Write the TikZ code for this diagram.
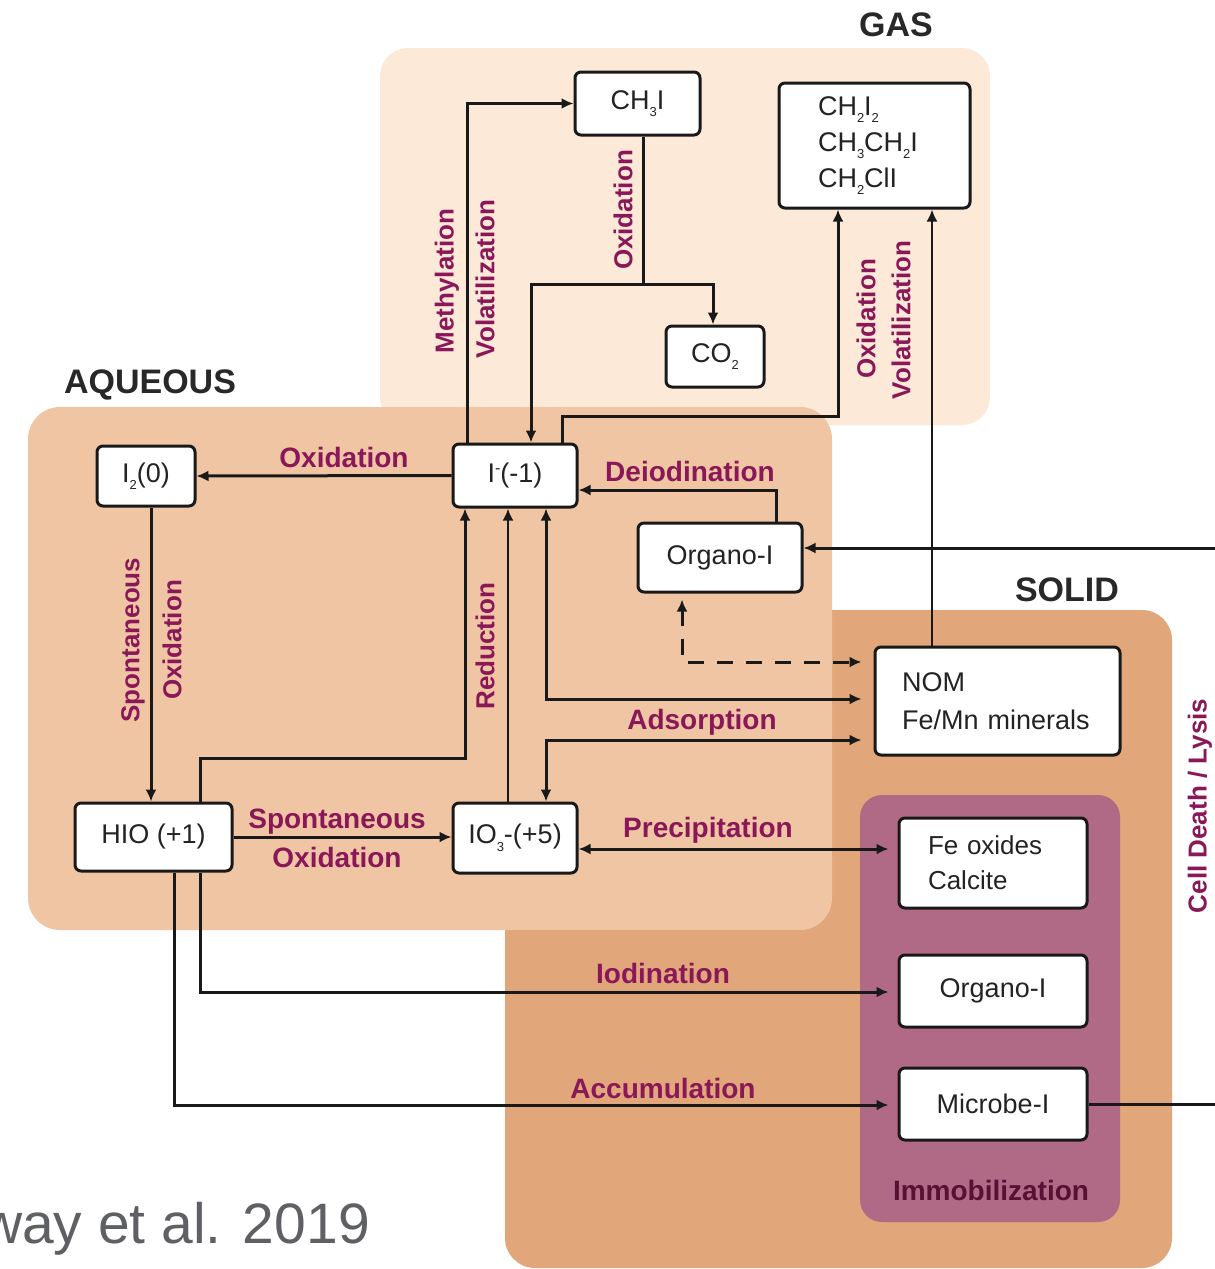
\documentclass[tikz,border=0pt]{standalone}
\usepackage{fontspec}
\setmainfont{Liberation Sans}
\usetikzlibrary{arrows.meta}
\definecolor{gasc}{RGB}{253,233,216}
\definecolor{aqc}{RGB}{240,197,163}
\definecolor{solc}{RGB}{225,166,122}
\definecolor{immc}{RGB}{176,106,134}
\definecolor{labc}{RGB}{138,24,88}
\definecolor{immlab}{RGB}{88,16,52}
\definecolor{boxline}{RGB}{25,25,25}
\definecolor{boxtext}{RGB}{35,35,35}
\definecolor{citec}{RGB}{95,96,100}
\definecolor{regc}{RGB}{40,40,40}
\newcommand\sbx[1]{\raisebox{-0.28em}{\fontsize{13}{13}\selectfont #1}}
\newcommand\spx[1]{\raisebox{0.32em}{\fontsize{16}{16}\selectfont #1}}
\begin{document}
\begin{tikzpicture}[x=1pt,y=-1pt,
  box/.style={draw=boxline, line width=3pt, fill=white, rounded corners=6pt, inner sep=0pt, text=boxtext, font=\fontsize{27}{36}\selectfont, align=center},
  lab/.style={text=labc, font=\bfseries\fontsize{28}{30}\selectfont, inner sep=0pt},
  vlab/.style={text=labc, font=\bfseries\fontsize{26}{28}\selectfont, inner sep=0pt, rotate=90},
  region/.style={font=\bfseries\fontsize{34}{36}\selectfont, text=regc, inner sep=0pt},
  line/.style={draw=boxline, line width=3pt},
  arr/.style={line, -{Latex[length=12pt,width=11pt]}},
  dbl/.style={line, {Latex[length=12pt,width=11pt]}-{Latex[length=12pt,width=11pt]}},
  dasharr/.style={line, dash pattern=on 16pt off 13pt, {Latex[length=12pt,width=11pt]}-{Latex[length=12pt,width=11pt]}}
]
\useasboundingbox (0,0) rectangle (1215,1269);
\clip (0,0) rectangle (1215,1269);

% regions
\fill[gasc, rounded corners=28pt] (380,48) rectangle (990,425);
\fill[solc, rounded corners=30pt] (505,610) rectangle (1172,1268);
\fill[aqc, rounded corners=32pt] (28,407) rectangle (832,930);
\fill[immc, rounded corners=22pt] (860,795) rectangle (1120,1222);

\node[region] (gaslab) at (896,25) {GAS};
\node[region] (aqlab) at (150,385) {AQUEOUS};
\node[region] (sollab) at (1067,590) {SOLID};
\node[text=immlab, font=\bfseries\fontsize{28}{30}\selectfont, inner sep=0pt] (immlab) at (991,1190) {Immobilization};

% boxes
\node[box, minimum width=125pt, minimum height=63pt] (CH3I) at (637.5,103.5) {CH\sbx{3}I};
\node[box, minimum width=191pt, minimum height=125pt, text width=113pt, inner xsep=39pt, align=left] (CHX) at (874.5,145.5) {CH\sbx{2}I\sbx{2}\\CH\sbx{3}CH\sbx{2}I\\CH\sbx{2}ClI};
\node[box, minimum width=98pt, minimum height=61pt] (CO2) at (715,356.5) {CO\sbx{2}};
\node[box, minimum width=98pt, minimum height=60pt] (I2) at (146,476) {I\sbx{2}(0)};
\node[box, minimum width=124pt, minimum height=63pt] (Im) at (515,475.5) {I\spx{-}(-1)};
\node[box, minimum width=164pt, minimum height=69pt] (OrgA) at (720,557.5) {Organo-I};
\node[box, minimum width=245pt, minimum height=108pt, text width=191pt, inner xsep=27pt, align=left, font=\fontsize{27}{38}\selectfont] (NOM) at (997.5,701) {NOM\\Fe/Mn minerals};
\node[box, minimum width=157pt, minimum height=68pt] (HIO) at (153.5,837) {HIO (+1)};
\node[box, minimum width=124pt, minimum height=70pt] (IO3) at (515,838) {IO\sbx{3}-(+5)};
\node[box, minimum width=188pt, minimum height=90pt, text width=130pt, inner xsep=29pt, align=left, font=\fontsize{26}{35}\selectfont] (FeOx) at (993,863) {Fe oxides\\Calcite};
\node[box, minimum width=188pt, minimum height=72pt] (OrgS) at (993,991) {Organo-I};
\node[box, minimum width=188pt, minimum height=72pt] (Mic) at (993,1104) {Microbe-I};

% free ends at the right edge
\coordinate (cdTop) at (1215,548);
\coordinate (cdBot) at (1215,1104);
\coordinate (oxj) at (643,284);

% connectors
\draw[arr] ([xshift=-48pt]Im.north) |- (CH3I.west);
\draw[line] (CH3I.south -| oxj) -- (oxj);
\draw[arr] (oxj) -| ([xshift=-2pt]CO2.north);
\draw[arr] (oxj) -| ([xshift=16pt]Im.north);
\draw[arr] ([xshift=47pt]Im.north) |- ++(0,-26) -| ([xshift=-36.5pt]CHX.south);
\draw[line, line width=2.2pt, -{Latex[length=12pt,width=11pt]}] ([xshift=-65.5pt]NOM.north) -- ([xshift=57.5pt]CHX.south);
\draw[arr] (Im.west) -- (I2.east);
\draw[arr] ([xshift=56pt]OrgA.north) |- ([yshift=-14.5pt]Im.east);
\draw[arr] (cdTop) -- (OrgA.east |- cdTop);
\draw[line] (Mic.east) -- (cdBot);
\draw[arr] ([xshift=5pt]I2.south) -- ([xshift=5pt]I2.south |- HIO.north);
\draw[arr] ([xshift=46.5pt]HIO.north) |- ++(0,-43) -| ([xshift=-50pt]Im.south);
\draw[arr, line width=2.4pt] ([xshift=-7pt]IO3.north) -- ([xshift=-7pt]Im.south);
\draw[dbl, shorten >=12pt] ([xshift=31pt]Im.south) |- ([yshift=2pt]NOM.west);
\draw[dbl, shorten >=12pt] ([xshift=31pt]IO3.north) |- ([yshift=-39pt]NOM.west);
\draw[dasharr, shorten <=6pt, shorten >=12pt] ([xshift=-38pt]OrgA.south) |- ([yshift=39pt]NOM.west);
\draw[arr] (HIO.east) -- (IO3.west |- HIO.east);
\draw[dbl, shorten >=9pt] ([yshift=-11pt]IO3.east) -- ([yshift=-11pt]IO3.east -| FeOx.west);
\draw[arr, shorten >=9pt] ([xshift=46.5pt]HIO.south) |- ([yshift=-1pt]OrgS.west);
\draw[arr, shorten >=9pt] ([xshift=20.5pt]HIO.south) |- ([yshift=-1pt]Mic.west);

% labels
\node[vlab] (lMeth) at (447,281) {Methylation};
\node[vlab] (lVol1) at (485,279) {Volatilization};
\node[vlab] (lOx1) at (623,210) {Oxidation};
\node[vlab] (lOx2) at (866,319) {Oxidation};
\node[vlab] (lVol2) at (901,320) {Volatilization};
\node[lab] (lOx3) at (344,457) {Oxidation};
\node[lab] (lDeio) at (690,471) {Deiodination};
\node[vlab] (lSp1) at (133,640) {Spontaneous};
\node[vlab] (lOx4) at (172,640) {Oxidation};
\node[vlab] (lRed) at (485,646) {Reduction};
\node[lab] (lAds) at (702,722) {Adsorption};
\node[lab] (lSp2) at (337,822) {Spontaneous};
\node[lab] (lOx5) at (337,857) {Oxidation};
\node[lab] (lPrec) at (708,830) {Precipitation};
\node[lab] (lIod) at (663,973) {Iodination};
\node[lab] (lAcc) at (663,1088) {Accumulation};
\node[vlab] (lCell) at (1200,806) {Cell Death / Lysis};

\node[anchor=base east, text=citec, font=\fontsize{57}{60}\selectfont, inner sep=0pt] (cite) at (370,1243) {way et al. 2019};
\end{tikzpicture}
\end{document}
